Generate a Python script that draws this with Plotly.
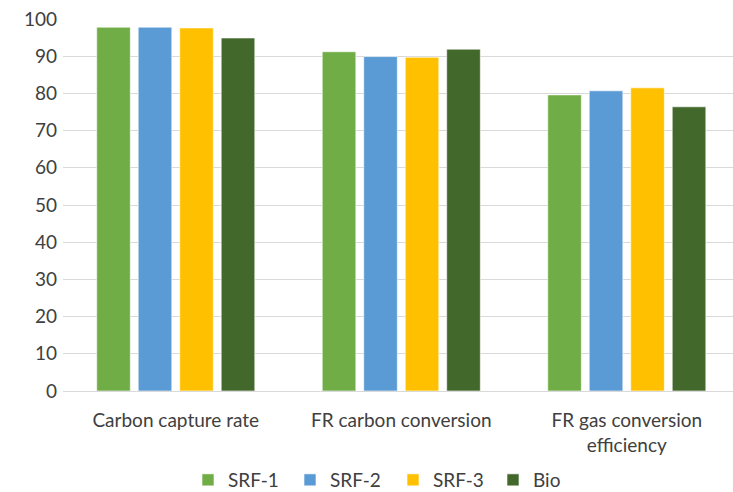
import plotly.graph_objects as go

# Performance indicators per fuel (%)
categories = ["Carbon capture rate", "FR carbon conversion", "FR gas conversion<br>efficiency"]
series_names = ["SRF-1", "SRF-2", "SRF-3", "Bio"]
srf1 = [97.8, 91.2, 79.6]
srf2 = [97.8, 89.9, 80.7]
srf3 = [97.6, 89.7, 81.5]
bio = [94.9, 91.9, 76.4]
y_ticks = [0, 10, 20, 30, 40, 50, 60, 70, 80, 90, 100]

colors = ["#70AD47", "#5B9BD5", "#FFC000", "#43682B"]
values = [srf1, srf2, srf3, bio]

W, H = 733, 492
FONT = "Lato"
TEXT = "#404040"
FS = 19

# one single-entry legend per series, spaced evenly along the bottom
legend_ids = ["legend", "legend2", "legend3", "legend4"]
legend_left_px = [188, 290, 393, 493]
legend_mid_px = 480

fig = go.Figure()
for name, vals, col, lid in zip(series_names, values, colors, legend_ids):
    fig.add_trace(go.Bar(
        name=name, x=categories, y=vals, legend=lid,
        marker=dict(color=col, line=dict(color="rgba(255,255,255,0.6)", width=1)),
    ))

legend_layouts = {
    lid: dict(
        orientation="h", xref="container", x=px / W, xanchor="left",
        yref="container", y=(H - legend_mid_px) / H, yanchor="middle",
        font=dict(family=FONT, size=FS, color=TEXT),
        bgcolor="rgba(0,0,0,0)", borderwidth=0,
    )
    for lid, px in zip(legend_ids, legend_left_px)
}

fig.update_layout(
    width=W, height=H,
    margin=dict(l=63, r=0, t=19, b=101, autoexpand=False),
    paper_bgcolor="white", plot_bgcolor="white",
    barmode="group", bargap=0.264, bargroupgap=0.19,
    font=dict(family=FONT, size=FS, color=TEXT),
    showlegend=True,
    xaxis=dict(
        range=[-0.5, 2.471], showgrid=False, ticks="",
        showline=True, linecolor="#D9D9D9", linewidth=1,
        ticklabelstandoff=12,
        tickfont=dict(family=FONT, size=FS, color=TEXT),
    ),
    yaxis=dict(
        range=[0, 100], tickvals=y_ticks, showgrid=True,
        gridcolor="#D9D9D9", gridwidth=1, zeroline=False,
        ticks="", ticklabelstandoff=5,
        tickfont=dict(family=FONT, size=FS, color=TEXT),
    ),
    **legend_layouts,
)

fig.write_html("out.html")
